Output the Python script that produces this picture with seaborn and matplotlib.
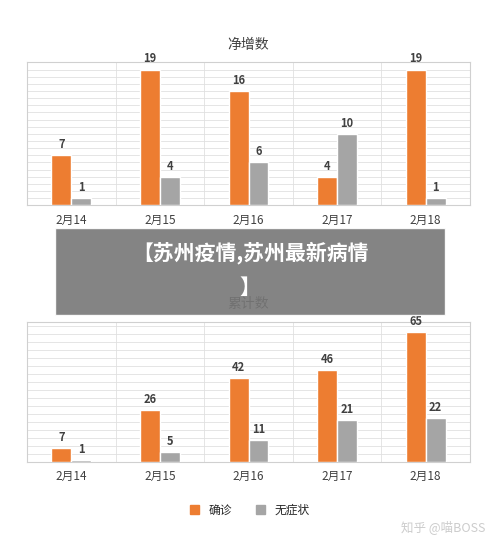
import matplotlib
matplotlib.use("Agg")
import matplotlib.pyplot as plt
import seaborn as sns
import pandas as pd
from matplotlib.patches import Rectangle, Patch

dates = ["2月14", "2月15", "2月16", "2月17", "2月18"]
new_confirmed = [7, 19, 16, 4, 19]
new_asym = [1, 4, 6, 10, 1]
total_confirmed = [7, 26, 42, 46, 65]
total_asym = [1, 5, 11, 21, 22]
series = ["确诊", "无症状"]
colors = ["#ED7D31", "#A5A5A5"]

sns.set_style("white")
plt.rcParams['font.family'] = ['Noto Sans CJK SC', 'DejaVu Sans']

fig = plt.figure(figsize=(5, 5.43), dpi=100)


def draw(ax, a, b, title, ymax, step):
    df = pd.DataFrame({"date": dates * 2, "val": a + b,
                       "kind": [series[0]] * 5 + [series[1]] * 5})
    sns.barplot(data=df, x="date", y="val", hue="kind", palette=colors,
                saturation=1, width=0.45, ax=ax, legend=False, zorder=3)
    ax.set_ylim(0, ymax)
    ax.set_xlim(-0.5, 4.5)
    for c in ax.containers:
        ax.bar_label(c, fontsize=8, fontweight="bold", color="#404040", padding=3)
    for y in range(step, ymax, step):
        ax.axhline(y, color="#e0e0e0", lw=0.6, zorder=0)
    for x in [0.5, 1.5, 2.5, 3.5]:
        ax.axvline(x, color="#e0e0e0", lw=0.6, zorder=0)
    for s in ax.spines.values():
        s.set_color("#d0d0d0")
    ax.set_yticks([])
    ax.set_xlabel("")
    ax.set_ylabel("")
    ax.tick_params(axis="x", length=0, labelsize=8.5, colors="#404040", pad=6)
    ax.set_title(title, fontsize=10, color="#404040", pad=10)


ax1 = fig.add_axes([0.054, 0.622, 0.886, 0.263])
draw(ax1, new_confirmed, new_asym, "净增数", 20, 1)
ax2 = fig.add_axes([0.054, 0.149, 0.886, 0.258])
draw(ax2, total_confirmed, total_asym, "累计数", 70, 4)

handles = [Patch(color=c, label=s) for c, s in zip(colors, series)]
fig.legend(handles=handles, loc="center", bbox_to_anchor=(0.5, 0.06), ncol=2,
           frameon=False, fontsize=8.5, handlelength=0.8, handleheight=0.8)

fig.patches.append(Rectangle((0.11, 0.42), 0.78, 0.16, transform=fig.transFigure,
                             facecolor="#777777", alpha=0.9, zorder=10))
fig.text(0.5, 0.535, "【苏州疫情,苏州最新病情", ha="center", va="center",
         color="white", fontsize=15, fontweight="bold", zorder=11)
fig.text(0.5, 0.47, "】", ha="center", va="center",
         color="white", fontsize=15, fontweight="bold", zorder=11)
fig.text(0.97, 0.03, "知乎 @喵BOSS", ha="right", va="center",
         color="#cccccc", fontsize=9)

fig.savefig("out.png", dpi=100)
